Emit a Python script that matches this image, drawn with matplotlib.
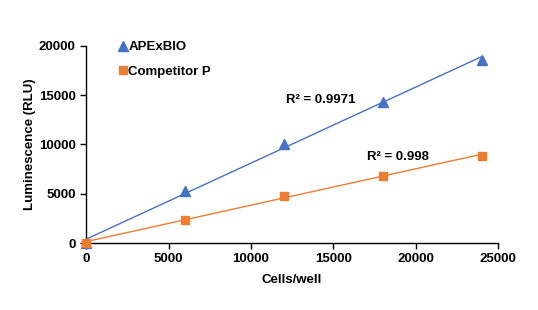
import numpy as np
import matplotlib
matplotlib.use("Agg")
import matplotlib.pyplot as plt
from matplotlib.ticker import MultipleLocator
from matplotlib.lines import Line2D

plt.rcParams['font.family'] = ['Liberation Sans', 'DejaVu Sans']

cells = [0, 6000, 12000, 18000, 24000]
apex = [0, 5250, 10050, 14350, 18600]
comp = [30, 2350, 4800, 6830, 8870]
r2_apex = "R² = 0.9971"
r2_comp = "R² = 0.998"

blue = "#4472C4"
orange = "#ED7D31"

fig = plt.figure(figsize=(5.38, 3.10), dpi=100)
ax = fig.add_axes([0.160, 0.216, 0.766, 0.636])

x = np.array(cells, dtype=float)
for y, c, m, ms, z in [(apex, blue, '^', 7, 3), (comp, orange, 's', 6, 4)]:
    k, b = np.polyfit(x, np.array(y, dtype=float), 1)
    xs = np.array([x.min(), x.max()])
    ax.plot(xs, k * xs + b, color=c, lw=1.0, zorder=2)
    ax.plot(x, y, linestyle='none', marker=m, color=c, markersize=ms, zorder=z, clip_on=False)

ax.set_xlim(0, 25000)
ax.set_ylim(0, 20000)
ax.xaxis.set_major_locator(MultipleLocator(5000))
ax.yaxis.set_major_locator(MultipleLocator(5000))
for s in ['top', 'right']:
    ax.spines[s].set_visible(False)
for s in ['left', 'bottom']:
    ax.spines[s].set_linewidth(1.0)
ax.tick_params(axis='both', direction='out', length=4, width=1.0, labelsize=9.5)
for lab in ax.get_xticklabels() + ax.get_yticklabels():
    lab.set_fontweight('bold')

ax.set_xlabel("Cells/well", fontsize=9.5, fontweight='bold', labelpad=6)
ax.set_ylabel("Luminescence (RLU)", fontsize=9.5, fontweight='bold', labelpad=2)

fig.text(286 / 538, 1 - 100 / 310, r2_apex, fontsize=9.5, fontweight='bold', va='center', ha='left')
fig.text(367 / 538, 1 - 157 / 310, r2_comp, fontsize=9.5, fontweight='bold', va='center', ha='left')

handles = [Line2D([], [], linestyle='none', marker='^', color=blue, markersize=7),
           Line2D([], [], linestyle='none', marker='s', color=orange, markersize=6)]
leg = ax.legend(handles, ["APExBIO", "Competitor P"], loc='upper left',
                bbox_to_anchor=(0.05, 1.085), frameon=False, fontsize=9.5,
                handlelength=0.6, handletextpad=0.15, labelspacing=0.95,
                prop={'weight': 'bold', 'size': 9.5})

fig.savefig("out.png", dpi=100)
